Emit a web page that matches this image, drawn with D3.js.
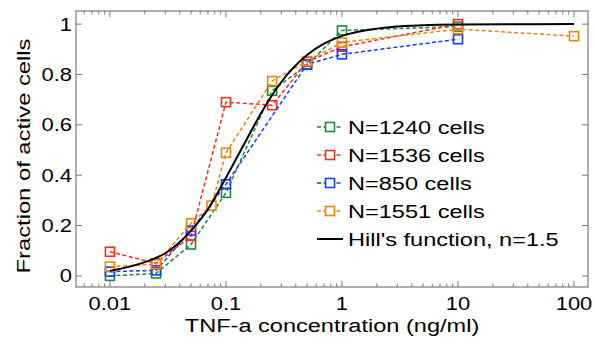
<!DOCTYPE html>
<html>
<head>
<meta charset="utf-8">
<script src="https://cdn.jsdelivr.net/npm/d3@7"></script>
<style>
  body { margin: 0; background: #fff; }
  text { font-family: Arial, "Liberation Sans", sans-serif; fill: #000; }
</style>
</head>
<body>
<div id="chart"></div>
<script>
// ------ Data ---------------//
var conc = [0.01, 0.025, 0.05, 0.075, 0.1, 0.25, 0.5, 1, 10, 100];

var green  = [[0.01, 0.0], [0.025, 0.01], [0.05, 0.125], [0.1, 0.33], [0.25, 0.735], [0.5, 0.838], [1, 0.975], [10, 0.99]];
var red    = [[0.01, 0.096], [0.025, 0.05], [0.05, 0.159], [0.1, 0.69], [0.25, 0.678], [0.5, 0.85], [1, 0.91], [10, 1.0]];
var blue   = [[0.01, 0.017], [0.025, 0.022], [0.05, 0.18], [0.1, 0.364], [0.5, 0.84], [1, 0.88], [10, 0.94]];
var orange = [[0.01, 0.037], [0.025, 0.046], [0.05, 0.209], [0.075, 0.279], [0.1, 0.489], [0.25, 0.774], [0.5, 0.853], [1, 0.927], [10, 0.98], [100, 0.952]];

// Hill's function curve
var hillX = [0.01, 0.02, 0.03, 0.05, 0.07, 0.1, 0.15, 0.2, 0.3, 0.5, 0.7, 1, 2, 5, 10, 100];
var hillY = [0.02, 0.055, 0.09, 0.18, 0.265, 0.39, 0.54, 0.645, 0.77, 0.877, 0.922, 0.953, 0.982, 0.995, 0.998, 1.0];

var seriesNames = ["N=1240 cells", "N=1536 cells", "N=850 cells", "N=1551 cells"];
var hillName = "Hill's function, n=1.5";
var xTicks = [0.01, 0.1, 1, 10, 100];
var yTicks = [0, 0.2, 0.4, 0.6, 0.8, 1];

// ------ SVG ---------------//
var width = 595, height = 345;
var margin = {top: 11, right: 7, bottom: 58, left: 76};

var svg = d3.select("#chart").append("svg")
  .attr("width", width)
  .attr("height", height);

var x = d3.scaleLog()
  .domain([0.0051, 132])
  .range([margin.left, width - margin.right]);

var y = d3.scaleLinear()
  .domain([-0.044, 1.052])
  .range([height - margin.bottom, margin.top]);

var x0 = margin.left, x1 = width - margin.right,
    y0 = height - margin.bottom, y1 = margin.top;

// text in the figure is stretched sideways, so draw it that way
function label(g, tx, ty, str, size, anchor, sx) {
  return g.append("text")
    .attr("transform", `translate(${tx},${ty}) scale(${sx},1)`)
    .attr("text-anchor", anchor)
    .style("font-size", size + "px")
    .text(str);
}

// ------ Box and ticks ---------------//
var axisCol = "#7a7a7a";
var box = svg.append("g");

box.append("rect")
  .attr("x", x0).attr("y", y1)
  .attr("width", x1 - x0).attr("height", y0 - y1)
  .attr("fill", "none").attr("stroke", axisCol).attr("stroke-width", 1.2);

// minor ticks for log axis
var minor = [];
[0.001, 0.01, 0.1, 1, 10, 100].forEach(function(d) {
  for (var k = 1; k < 10; k++) {
    var v = d * k;
    if (v >= x.domain()[0] && v <= x.domain()[1]) minor.push({v: v, major: k === 1});
  }
});

minor.forEach(function(t) {
  var len = t.major ? 6 : 3.5;
  box.append("line").attr("x1", x(t.v)).attr("x2", x(t.v)).attr("y1", y0).attr("y2", y0 - len)
    .attr("stroke", axisCol).attr("stroke-width", 1);
  box.append("line").attr("x1", x(t.v)).attr("x2", x(t.v)).attr("y1", y1).attr("y2", y1 + len)
    .attr("stroke", axisCol).attr("stroke-width", 1);
});

yTicks.forEach(function(t) {
  box.append("line").attr("x1", x0).attr("x2", x0 + 6).attr("y1", y(t)).attr("y2", y(t))
    .attr("stroke", axisCol).attr("stroke-width", 1);
  box.append("line").attr("x1", x1).attr("x2", x1 - 6).attr("y1", y(t)).attr("y2", y(t))
    .attr("stroke", axisCol).attr("stroke-width", 1);
});

// ------ Tick labels ---------------//
var tickG = svg.append("g");
xTicks.forEach(function(d) {
  label(tickG, x(d), 309.5, d3.format("~g")(d), 18, "middle", 1.22);
});
yTicks.forEach(function(d) {
  label(tickG, 72, y(d) + 6.5, d3.format("~g")(d), 18, "end", 1.22);
});

// ------ Axis titles ---------------//
label(svg, (x0 + x1) / 2, 331.5, "TNF-a concentration (ng/ml)", 19, "middle", 1.24);

svg.append("text")
  .attr("transform", `translate(${30},${156}) rotate(-90) scale(1.25,1)`)
  .attr("text-anchor", "middle")
  .style("font-size", "19px")
  .text("Fraction of active cells");

// ------ Data lines ---------------//
var colours = ["#1e8a3c", "#ff2a1a", "#1a3cff", "#e8880c"];
var allSeries = [green, red, blue, orange];

var line = d3.line()
  .x(d => x(d[0]))
  .y(d => y(d[1]));

var sq = 9;

allSeries.forEach(function(s, i) {
  svg.append("path")
    .datum(s)
    .attr("d", line)
    .attr("fill", "none")
    .attr("stroke", colours[i])
    .attr("stroke-width", 1.5)
    .attr("stroke-dasharray", "4,2.5");

  svg.append("g").selectAll("rect")
    .data(s).enter().append("rect")
    .attr("x", d => x(d[0]) - sq / 2)
    .attr("y", d => y(d[1]) - sq / 2)
    .attr("width", sq).attr("height", sq)
    .attr("fill", "none")
    .attr("stroke", colours[i])
    .attr("stroke-width", 1.6);
});

// ------ Hill curve ---------------//
var hill = hillX.map((v, i) => [v, hillY[i]]);
svg.append("path")
  .datum(hill)
  .attr("d", d3.line().x(d => x(d[0])).y(d => y(d[1])).curve(d3.curveMonotoneX))
  .attr("fill", "none")
  .attr("stroke", "#000")
  .attr("stroke-width", 2);

// ------ Legend ---------------//
var legend = svg.append("g").attr("transform", `translate(${317},${127})`);
var rowH = 28;

seriesNames.forEach(function(name, i) {
  var g = legend.append("g").attr("transform", `translate(0,${i * rowH})`);
  g.append("line").attr("x1", 0).attr("x2", 26).attr("y1", 0).attr("y2", 0)
    .attr("stroke", colours[i]).attr("stroke-width", 1.5).attr("stroke-dasharray", "4,2.5");
  g.append("rect").attr("x", 13 - sq / 2).attr("y", -sq / 2).attr("width", sq).attr("height", sq)
    .attr("fill", "#fff").attr("stroke", colours[i]).attr("stroke-width", 1.6);
  label(g, 31, 7, name, 19, "start", 1.24);
});

var hg = legend.append("g").attr("transform", `translate(0,${4 * rowH})`);
hg.append("line").attr("x1", 0).attr("x2", 26).attr("y1", 0).attr("y2", 0)
  .attr("stroke", "#000").attr("stroke-width", 2);
label(hg, 31, 7, hillName, 19, "start", 1.24);
</script>
</body>
</html>
